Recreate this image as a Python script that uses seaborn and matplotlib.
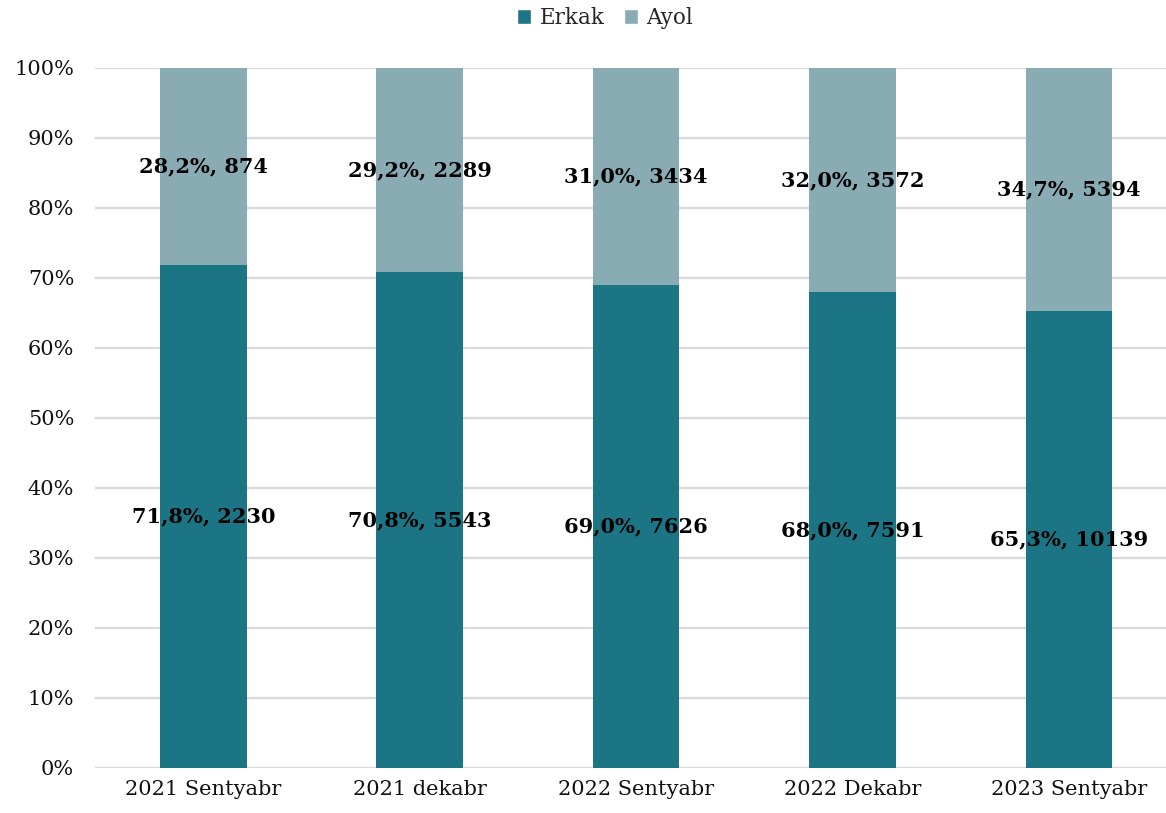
import matplotlib
matplotlib.use("Agg")
import matplotlib.pyplot as plt
from matplotlib.patches import Patch
import seaborn as sns
import pandas as pd

categories = ["2021 Sentyabr", "2021 dekabr", "2022 Sentyabr", "2022 Dekabr", "2023 Sentyabr"]
erkak_pct = [71.8, 70.8, 69.0, 68.0, 65.3]
erkak_cnt = [2230, 5543, 7626, 7591, 10139]
ayol_pct = [28.2, 29.2, 31.0, 32.0, 34.7]
ayol_cnt = [874, 2289, 3434, 3572, 5394]

c_erkak = "#1b7584"
c_ayol = "#88abb4"

sns.set_theme(style="white")
plt.rcParams["font.family"] = ["DejaVu Serif"]

df = pd.DataFrame({
    "cat": categories,
    "erkak": erkak_pct,
    "ayol": ayol_pct,
})
df["total"] = df["erkak"] + df["ayol"]

fig = plt.figure(figsize=(11.66, 8.13), dpi=100)
ax = fig.add_axes([0.0815, 0.0554, 0.9185, 0.861])

# stacked 100% bars: full column in the "Ayol" colour, "Erkak" drawn over it
sns.barplot(data=df, x="cat", y="total", color=c_ayol, width=0.40,
            saturation=1, linewidth=0, ax=ax, zorder=2)
sns.barplot(data=df, x="cat", y="erkak", color=c_erkak, width=0.40,
            saturation=1, linewidth=0, ax=ax, zorder=3)

ax.set_xlim(-0.5, 4.448)
ax.set_ylim(0, 100)
ax.set_yticks(range(0, 101, 10))
ax.set_yticklabels([f"{v}%" for v in range(0, 101, 10)], fontsize=15, color="#111111")
ax.tick_params(axis="x", labelsize=15, colors="#111111", length=0, pad=9)
ax.tick_params(axis="y", length=0, pad=15)
ax.set_xlabel("")
ax.set_ylabel("")
ax.yaxis.grid(True, color="#d9d9d9", linewidth=1.6, zorder=0)
ax.set_axisbelow(True)
for s in ax.spines.values():
    s.set_visible(False)

def fmt(p, n):
    return f"{p:.1f}".replace(".", ",") + f"%, {n}"

for i in range(len(categories)):
    ax.text(i, erkak_pct[i] / 2, fmt(erkak_pct[i], erkak_cnt[i]),
            ha="center", va="center", fontsize=15, fontweight="bold",
            color="#000000", zorder=5)
    ax.text(i, erkak_pct[i] + ayol_pct[i] / 2, fmt(ayol_pct[i], ayol_cnt[i]),
            ha="center", va="center", fontsize=15, fontweight="bold",
            color="#000000", zorder=5)

handles = [Patch(facecolor=c_erkak, label="Erkak"), Patch(facecolor=c_ayol, label="Ayol")]
fig.legend(handles=handles, loc="center", bbox_to_anchor=(0.519, 0.978), ncol=2,
           frameon=False, fontsize=15.5, handlelength=0.65, handleheight=0.65,
           handletextpad=0.4, columnspacing=0.9)

fig.savefig("out.png", dpi=100)
